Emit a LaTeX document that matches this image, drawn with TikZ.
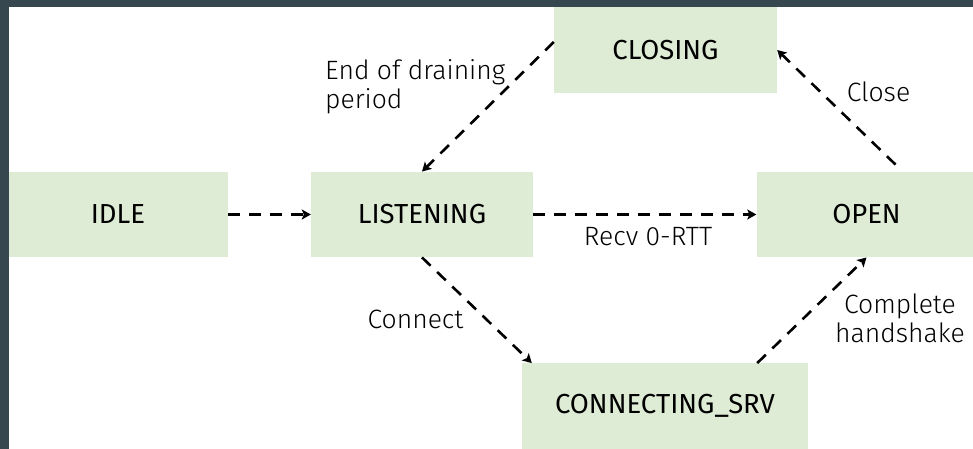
\documentclass[tikz,border=0pt]{standalone}
\usepackage{fontspec}
\usepackage{xcolor}
\usepackage{tikz}
\usetikzlibrary{positioning,calc,arrows.meta}

\newfontfamily\statefont{Fira Sans}
\newfontfamily\labelfont{Fira Sans Light}

\definecolor{frame}{RGB}{55,71,79}
\definecolor{stategreen}{RGB}{222,236,214}

\tikzset{
  state/.style={fill=stategreen, inner sep=0pt, minimum height=85.5pt,
    font=\statefont\fontsize{27.5}{30}\selectfont},
  trans/.style={line width=2.6pt, dash pattern=on 12pt off 9pt,
    -{Stealth[length=9pt, width=10pt, inset=2pt]}},
  lbl/.style={inner sep=0pt, font=\labelfont\fontsize{26.5}{29}\selectfont}
}

\begin{document}
\begin{tikzpicture}[x=1pt, y=-1pt]
  \useasboundingbox (0,0) rectangle (973,449);

  % States
  \node[state, minimum width=220pt] (idle) at (118, 214.5) {IDLE};
  \node[state, minimum width=222pt] (listening) at (422, 214.5) {LISTENING};
  \node[state, minimum width=220pt] (open) at (866.5, 214.5) {OPEN};
  \node[state, minimum width=223pt] (closing) at (665.5, 50) {CLOSING};
  \node[state, minimum width=286pt] (conn) at (665, 406) {CONNECTING\_SRV};

  % Transitions
  \draw[trans] (idle.east) -- (listening.west);
  \draw[trans] (listening.east) -- (open.west);
  \draw[trans] ($(closing.west)+(0,-8)$) -- (listening.north);
  \draw[trans] (listening.south) -- ($(conn.north west)+(10,0)$);
  \draw[trans] ($(conn.north east)+(-51,0)$) -- (open.south);
  \draw[trans] ($(open.north)+(29,-7)$) -- (closing.east);

  % Labels
  \node[lbl, anchor=north west, align=left] (drainlbl) at (325, 59) {End of draining\\period};
  \node[lbl, anchor=base] (closelbl) at (878.5, 102) {Close};
  \node[lbl, anchor=base] (recvlbl) at (648, 245) {Recv 0-RTT};
  \node[lbl, anchor=base] (connectlbl) at (415.5, 328) {Connect};
  \node[lbl, anchor=north, align=center] (hslbl) at (900, 294) {Complete\\handshake};

  % Frame
  \fill[frame] (0,0) rectangle (973,7);
  \fill[frame] (0,0) rectangle (9,449);
\end{tikzpicture}
\end{document}
